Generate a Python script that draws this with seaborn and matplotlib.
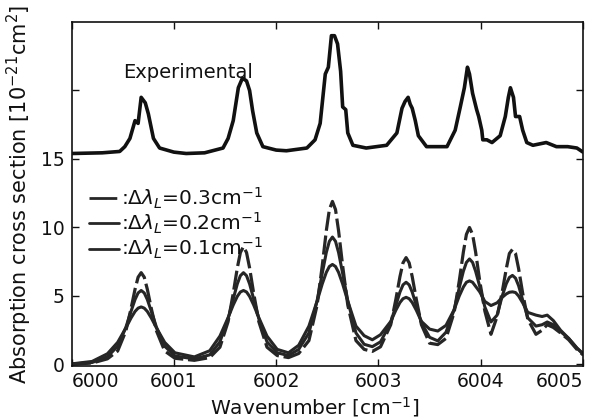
import numpy as np
import pandas as pd
import matplotlib
matplotlib.use("Agg")
import matplotlib.pyplot as plt
import seaborn as sns
from matplotlib.lines import Line2D

# ---------------- data ----------------
exp_x = [6000.00, 6000.30, 6000.47, 6000.52, 6000.57, 6000.62, 6000.65, 6000.68, 6000.72,
         6000.75, 6000.80, 6000.86, 6001.00, 6001.12, 6001.30, 6001.48, 6001.53, 6001.58,
         6001.63, 6001.67, 6001.71, 6001.74, 6001.77, 6001.81, 6001.87, 6002.00, 6002.10,
         6002.30, 6002.38, 6002.43, 6002.48, 6002.51, 6002.54, 6002.57, 6002.60, 6002.63,
         6002.65, 6002.68, 6002.70, 6002.75, 6002.88, 6003.08, 6003.18, 6003.23, 6003.26,
         6003.29, 6003.31, 6003.33, 6003.36, 6003.39, 6003.47, 6003.67, 6003.75, 6003.80,
         6003.84, 6003.87, 6003.89, 6003.92, 6003.96, 6003.98, 6004.01, 6004.02, 6004.06,
         6004.11, 6004.19, 6004.24, 6004.27, 6004.29, 6004.32, 6004.34, 6004.38, 6004.41,
         6004.45, 6004.51, 6004.64, 6004.74, 6004.85, 6004.94, 6005.00]
exp_y = [15.40, 15.45, 15.55, 15.90, 16.50, 17.80, 17.60, 19.50, 19.10,
         18.30, 16.50, 15.80, 15.50, 15.40, 15.45, 15.80, 16.50, 17.80,
         20.20, 20.90, 20.70, 20.00, 18.50, 16.90, 15.90, 15.65, 15.60,
         15.80, 16.40, 17.60, 21.20, 21.70, 24.00, 24.00, 23.40, 21.40,
         18.80, 18.60, 16.90, 16.00, 15.80, 16.00, 16.90, 18.70, 19.20,
         19.50, 19.00, 18.70, 17.80, 16.70, 15.90, 15.90, 17.10, 18.80,
         20.20, 21.70, 21.20, 19.80, 18.60, 18.10, 17.10, 16.40, 16.40,
         16.20, 16.70, 18.10, 19.50, 20.20, 19.50, 18.10, 18.10, 17.10,
         16.20, 16.00, 16.20, 15.90, 15.90, 15.80, 15.50]

sim_x = [6000.00, 6000.20, 6000.35, 6000.45, 6000.53, 6000.58, 6000.62, 6000.65, 6000.68,
         6000.71, 6000.74, 6000.78, 6000.83, 6000.91, 6001.01, 6001.20,
         6001.35, 6001.45, 6001.53, 6001.58, 6001.62, 6001.65, 6001.68, 6001.71, 6001.74,
         6001.78, 6001.83, 6001.91, 6002.01, 6002.12,
         6002.22, 6002.32, 6002.40, 6002.45, 6002.49, 6002.52, 6002.55, 6002.58, 6002.61,
         6002.65, 6002.70, 6002.78, 6002.86, 6002.94, 6003.02,
         6003.12, 6003.17, 6003.21, 6003.24, 6003.27, 6003.30, 6003.33, 6003.37, 6003.42,
         6003.50, 6003.58,
         6003.66, 6003.74, 6003.79, 6003.83, 6003.86, 6003.89, 6003.92, 6003.95, 6003.99,
         6004.04, 6004.10,
         6004.16, 6004.21, 6004.25, 6004.28, 6004.31, 6004.34, 6004.37, 6004.41, 6004.46,
         6004.54,
         6004.60, 6004.65, 6004.71, 6004.78, 6004.86, 6004.94, 6005.00]

sim_03 = [0.02, 0.10, 0.41, 0.98, 2.44, 4.05, 5.49, 6.37, 6.70, 6.37, 5.49, 4.05, 2.44, 0.98, 0.45, 0.30,
          0.50, 1.26, 3.13, 5.19, 7.05, 8.17, 8.60, 8.17, 7.05, 5.19, 3.13, 1.26, 0.65, 0.50,
          0.80, 1.74, 4.33, 7.19, 9.76, 11.31, 11.90, 11.31, 9.76, 7.19, 4.33, 1.74, 1.10, 0.95, 1.29,
          2.90, 4.75, 6.41, 7.42, 7.80, 7.42, 6.41, 4.75, 2.90, 1.55, 1.45,
          1.90, 3.80, 6.10, 8.20, 9.50, 10.00, 9.50, 8.20, 6.10, 3.90, 2.20,
          3.50, 5.30, 7.00, 8.10, 8.40, 8.10, 7.00, 5.20, 3.30, 2.20,
          2.50, 2.90, 2.70, 2.30, 1.80, 1.10, 0.70]
sim_02 = [0.03, 0.14, 0.56, 1.33, 2.70, 3.86, 4.74, 5.22, 5.40, 5.22, 4.74, 3.86, 2.70, 1.33, 0.62, 0.40,
          0.70, 1.65, 3.35, 4.78, 5.88, 6.48, 6.70, 6.48, 5.88, 4.78, 3.35, 1.65, 0.85, 0.65,
          1.10, 2.30, 4.65, 6.64, 8.17, 8.99, 9.30, 8.99, 8.17, 6.64, 4.65, 2.30, 1.47, 1.30, 1.65,
          3.05, 4.31, 5.28, 5.81, 6.00, 5.81, 5.28, 4.31, 3.05, 1.98, 1.72,
          2.35, 4.00, 5.60, 6.80, 7.45, 7.70, 7.45, 6.80, 5.70, 4.20, 3.10,
          3.60, 5.00, 5.90, 6.35, 6.50, 6.30, 5.75, 4.70, 3.40, 2.80,
          2.90, 3.10, 2.90, 2.40, 1.90, 1.20, 0.75]
sim_01 = [0.04, 0.22, 0.78, 1.61, 2.66, 3.38, 3.87, 4.11, 4.20, 4.11, 3.87, 3.38, 2.66, 1.61, 0.85, 0.55,
          1.00, 2.07, 3.42, 4.34, 4.97, 5.29, 5.40, 5.29, 4.97, 4.34, 3.42, 2.07, 1.10, 0.85,
          1.40, 2.80, 4.62, 5.87, 6.72, 7.15, 7.30, 7.15, 6.72, 5.87, 4.62, 2.80, 2.10, 1.80, 2.17,
          3.14, 3.96, 4.52, 4.80, 4.90, 4.80, 4.52, 3.96, 3.14, 2.58, 2.44,
          2.85, 4.00, 5.00, 5.65, 6.00, 6.10, 6.00, 5.70, 5.30, 4.60, 4.30,
          4.50, 4.90, 5.15, 5.27, 5.30, 5.25, 5.00, 4.50, 3.80, 3.60,
          3.50, 3.60, 3.20, 2.50, 1.90, 1.20, 0.80]

legend_labels = [r":$\Delta\lambda_L$=0.3cm$^{-1}$",
                 r":$\Delta\lambda_L$=0.2cm$^{-1}$",
                 r":$\Delta\lambda_L$=0.1cm$^{-1}$"]
x_ticks = [6000, 6001, 6002, 6003, 6004, 6005]
y_ticks = [0, 5, 10, 15, 20]
y_ticklabels = ["0", "5", "10", "15", ""]

# ---------------- plot ----------------
sns.set_theme(style="ticks")
plt.rcParams["font.family"] = ["DejaVu Sans"]
plt.rcParams["mathtext.fontset"] = "dejavusans"

fig = plt.figure(figsize=(6.07, 4.20), dpi=100)
ax = fig.add_axes([0.118, 0.1274, 0.8425, 0.8202])

ink = "#111111"
exp_df = pd.DataFrame({"x": exp_x, "y": exp_y})
sns.lineplot(data=exp_df, x="x", y="y", ax=ax, color=ink, lw=2.6,
             estimator=None, sort=False)

line_col = "#262626"
dash = (6, 1.5)
styles = [dict(lw=2.3, dashes=dash), dict(lw=2.2), dict(lw=2.2)]
for vals, st in zip([sim_03, sim_02, sim_01], styles):
    df = pd.DataFrame({"x": sim_x, "y": vals})
    sns.lineplot(data=df, x="x", y="y", ax=ax, color=line_col,
                 estimator=None, sort=False, **st)

ax.set_xlim(6000, 6005)
ax.set_ylim(-0.15, 25)
ax.set_xticks(x_ticks)
ax.set_xticklabels([str(t) for t in x_ticks])
ax.set_yticks(y_ticks)
ax.set_yticklabels(y_ticklabels)
ax.tick_params(direction="in", length=5, width=1, top=True, right=True,
               labelsize=13.5, colors=ink)
ax.tick_params(axis="x", pad=4)
ax.tick_params(axis="y", pad=5)
for s in ax.spines.values():
    s.set_linewidth(1.2)
    s.set_color(ink)

ax.set_xlabel(r"Wavenumber [cm$^{-1}$]", fontsize=14.5, color=ink)
ax.xaxis.set_label_coords(0.476, -0.082)
ax.set_ylabel(r"Absorption cross section [10$^{-21}$cm$^{2}$]", fontsize=15,
              labelpad=5, color=ink)

ax.text(6000.50, 21.3, "Experimental", fontsize=14, va="center", ha="left", color=ink)

handles = [Line2D([], [], color=line_col, lw=2.0, dashes=(10, 3)),
           Line2D([], [], color=line_col, lw=2.0),
           Line2D([], [], color=line_col, lw=2.0)]
leg = ax.legend(handles, legend_labels, loc="upper left", bbox_to_anchor=(0.034, 0.525),
                frameon=False, fontsize=14.5, handlelength=1.5, handletextpad=0.1,
                labelspacing=0.0, borderpad=0, borderaxespad=0)
for t in leg.get_texts():
    t.set_color(ink)

fig.canvas.draw()
ticks = ax.xaxis.get_major_ticks()
ticks[0].label1.set_horizontalalignment("left")
ticks[-1].label1.set_horizontalalignment("right")

fig.savefig("out.png", dpi=100)
